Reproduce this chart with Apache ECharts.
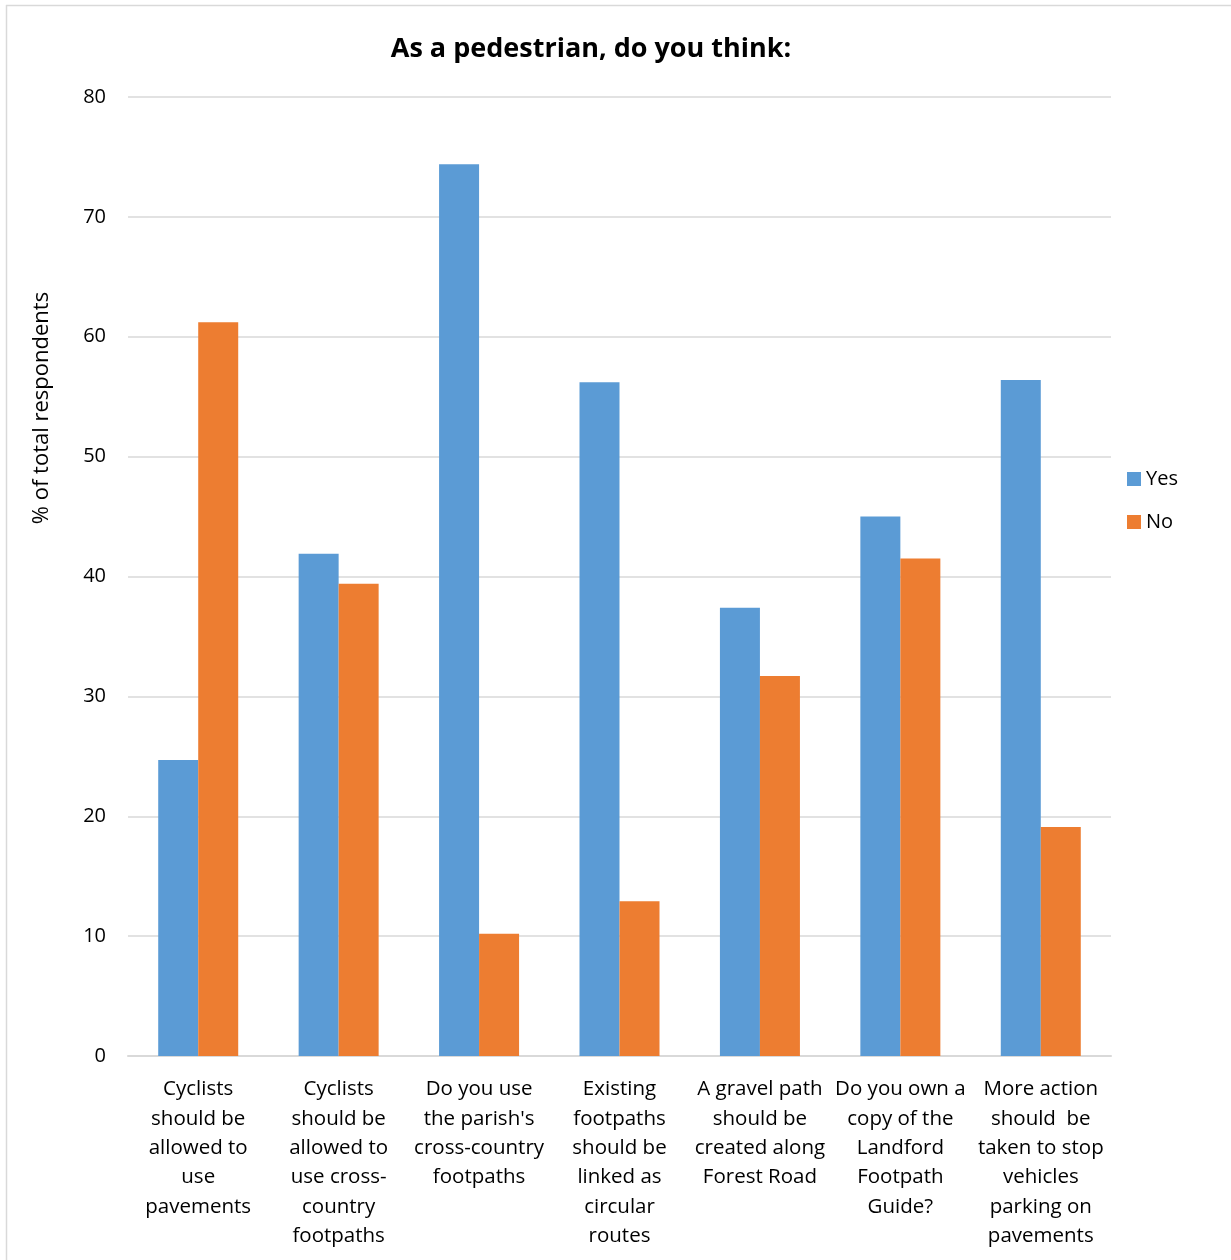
<!DOCTYPE html>
<html>
<head>
<meta charset="utf-8">
<script src="https://cdn.jsdelivr.net/npm/echarts@6/dist/echarts.min.js"></script>
<style>
html,body{margin:0;padding:0;background:#fff;}
#chart{width:1231px;height:1260px;}
</style>
</head>
<body>
<div id="chart"></div>
<script>
const categories = [
  "Cyclists\nshould be\nallowed to\nuse\npavements",
  "Cyclists\nshould be\nallowed to\nuse cross-\ncountry\nfootpaths",
  "Do you use\nthe parish's\ncross-country\nfootpaths",
  "Existing\nfootpaths\nshould be\nlinked as\ncircular\nroutes",
  "A gravel path\nshould be\ncreated along\nForest Road",
  "Do you own a\ncopy of the\nLandford\nFootpath\nGuide?",
  "More action\nshould  be\ntaken to stop\nvehicles\nparking on\npavements"
];
const yesValues = [24.7, 41.9, 74.4, 56.2, 37.4, 45.0, 56.4];
const noValues = [61.2, 39.4, 10.2, 12.9, 31.7, 41.5, 19.1];
const yTicks = [0, 10, 20, 30, 40, 50, 60, 70, 80];
const yAxisTitle = '% of total respondents';

const FONT = "'Open Sans', 'Noto Sans', sans-serif";
const chart = echarts.init(document.getElementById('chart'));
chart.setOption({
  backgroundColor: '#fff',
  animation: false,
  color: ['#5b9bd5', '#ed7d31'],
  title: {
    text: 'As a pedestrian, do you think:',
    left: 586, top: 31, textAlign: 'center',
    textStyle: { fontFamily: FONT, fontSize: 27, fontWeight: 'bold', color: '#000' }
  },
  graphic: [
    { type: 'line', shape: { x1: 6, y1: 5.5, x2: 1231, y2: 5.5 }, style: { stroke: '#d9d9d9', lineWidth: 1.5 } },
    { type: 'line', shape: { x1: 6.5, y1: 5, x2: 6.5, y2: 1260 }, style: { stroke: '#d9d9d9', lineWidth: 1.5 } },
    { type: 'text', x: 42, y: 408, rotation: Math.PI / 2,
      style: { text: yAxisTitle, fontFamily: FONT, fontSize: 22, fill: '#000',
               textAlign: 'center', textVerticalAlign: 'middle' } }
  ],
  legend: {
    orient: 'vertical',
    left: 1122, top: 464,
    itemWidth: 14, itemHeight: 14, itemGap: 23,
    icon: 'rect',
    textStyle: { fontFamily: FONT, fontSize: 20, color: '#000' },
    data: ['Yes', 'No']
  },
  grid: { left: 128, right: 120, top: 97, bottom: 204, containLabel: false },
  xAxis: {
    type: 'category',
    data: categories,
    axisLine: { lineStyle: { color: '#d9d9d9', width: 2 } },
    axisTick: { show: false },
    axisLabel: {
      interval: 0, margin: 19, color: '#000',
      fontFamily: FONT, fontSize: 20.5, lineHeight: 29.3, align: 'center'
    }
  },
  yAxis: {
    type: 'value',
    min: 0, max: 80, interval: 10,
    axisLine: { show: false },
    axisTick: { show: false },
    axisLabel: {
      color: '#000', fontFamily: FONT, fontSize: 20, margin: 22,
      padding: [4, 0, 0, 0],
      formatter: v => yTicks.includes(v) ? String(v) : ''
    },
    splitLine: { lineStyle: { color: '#d9d9d9', width: 1.5 } }
  },
  series: [
    { name: 'Yes', type: 'bar', data: yesValues, barWidth: 40, barGap: '0%' },
    { name: 'No', type: 'bar', data: noValues, barWidth: 40, barGap: '0%' }
  ]
});
</script>
</body>
</html>
